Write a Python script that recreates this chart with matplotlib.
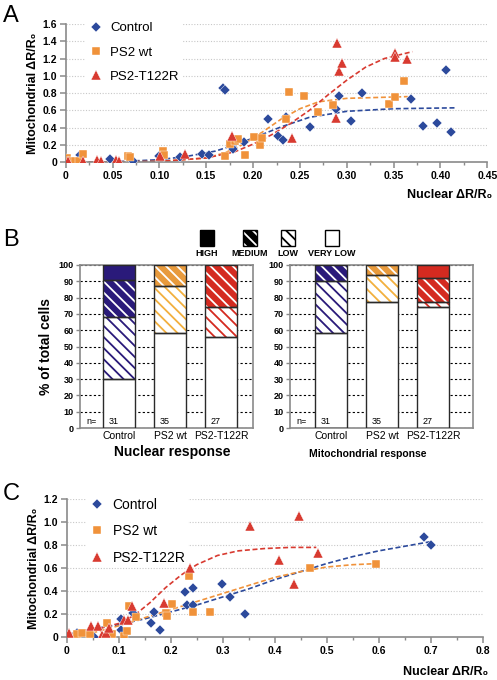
import matplotlib
matplotlib.use('Agg')
import matplotlib.pyplot as plt
from matplotlib import font_manager
from matplotlib.patches import Rectangle
from matplotlib.ticker import MultipleLocator, FuncFormatter

plt.rcParams['font.family'] = ['Liberation Sans', 'DejaVu Sans']
plt.rcParams['hatch.linewidth'] = 1.3

names = {f.name for f in font_manager.fontManager.ttflist}
if 'Liberation Sans Narrow' in names:
    NARROW = ['Liberation Sans Narrow', 'Liberation Sans', 'DejaVu Sans']
else:
    NARROW = ['Liberation Sans', 'DejaVu Sans']

BLUE = '#2c4a9c'
ORANGE = '#f0923a'
RED = '#d83a30'
NAVY = '#2a1a7a'
BAR_ORANGE = '#e89a3c'
BAR_ORANGE_LT = '#f2b03e'
BAR_RED = '#d42a20'

# ---- panel A data (nuclear vs mitochondrial, x/y) ----
a_ctrl_x = [0.015, 0.047, 0.072, 0.100, 0.122, 0.146, 0.153, 0.168, 0.170, 0.178, 0.178, 0.179,
            0.190, 0.216, 0.227, 0.232, 0.235, 0.261, 0.289, 0.292, 0.305, 0.316, 0.369, 0.381,
            0.396, 0.406, 0.411]
a_ctrl_y = [0.085, 0.035, 0.02, 0.07, 0.06, 0.10, 0.09, 0.86, 0.84, 0.22, 0.18, 0.15,
            0.24, 0.50, 0.30, 0.26, 0.52, 0.41, 0.62, 0.77, 0.48, 0.80, 0.73, 0.42,
            0.45, 1.07, 0.35]
a_wt_x = [0.001, 0.003, 0.007, 0.010, 0.014, 0.018, 0.066, 0.069, 0.104, 0.105, 0.170, 0.175,
          0.181, 0.184, 0.191, 0.201, 0.207, 0.210, 0.235, 0.238, 0.254, 0.269, 0.285, 0.345,
          0.352, 0.361]
a_wt_y = [0.05, 0.01, 0.02, 0.01, 0.01, 0.10, 0.07, 0.06, 0.13, 0.08, 0.07, 0.21,
          0.25, 0.27, 0.08, 0.29, 0.20, 0.28, 0.50, 0.81, 0.77, 0.58, 0.66, 0.68,
          0.75, 0.94]
a_mut_x = [0.002, 0.018, 0.033, 0.038, 0.054, 0.057, 0.101, 0.127, 0.178, 0.242, 0.288, 0.290,
           0.292, 0.295, 0.351, 0.351, 0.364]
a_mut_y = [0.015, 0.01, 0.03, 0.015, 0.03, 0.01, 0.07, 0.10, 0.30, 0.28, 0.51, 1.38,
           1.06, 1.15, 1.26, 1.22, 1.20]

# fitted curves
a_ctrl_fit_x = [0, 0.05, 0.10, 0.13, 0.16, 0.18, 0.20, 0.23, 0.26, 0.30, 0.35, 0.415]
a_ctrl_fit_y = [0.0, 0.005, 0.03, 0.07, 0.13, 0.20, 0.28, 0.41, 0.52, 0.59, 0.62, 0.63]
a_wt_fit_x = [0, 0.10, 0.15, 0.17, 0.19, 0.21, 0.23, 0.25, 0.27, 0.30, 0.365]
a_wt_fit_y = [0, 0.01, 0.05, 0.11, 0.21, 0.35, 0.50, 0.62, 0.70, 0.74, 0.76]
a_mut_fit_x = [0, 0.10, 0.15, 0.18, 0.20, 0.22, 0.24, 0.26, 0.28, 0.30, 0.32, 0.34, 0.37]
a_mut_fit_y = [0, 0.01, 0.05, 0.12, 0.21, 0.32, 0.45, 0.60, 0.78, 0.95, 1.10, 1.20, 1.28]

# ---- panel B data (% of cells per response class) ----
groups = ['Control', 'PS2 wt', 'PS2-T122R']
n_cells = [31, 35, 27]
nuc_verylow = [30, 58, 56]
nuc_low = [38, 29, 18]
nuc_medium = [23, 13, 26]
nuc_high = [9, 0, 0]
mito_verylow = [58, 77, 74]
mito_low = [32, 17, 3]
mito_medium = [10, 6, 15]
mito_high = [0, 0, 8]

# ---- panel C data ----
c_ctrl_x = [0.019, 0.040, 0.044, 0.053, 0.104, 0.105, 0.128, 0.162, 0.167, 0.179, 0.228, 0.231,
            0.242, 0.242, 0.299, 0.314, 0.342, 0.688, 0.700]
c_ctrl_y = [0.04, 0.035, 0.015, 0.006, 0.16, 0.065, 0.21, 0.12, 0.22, 0.065, 0.39, 0.28,
            0.43, 0.28, 0.46, 0.35, 0.20, 0.87, 0.80]
c_wt_x = [0.019, 0.030, 0.044, 0.077, 0.087, 0.110, 0.115, 0.119, 0.133, 0.190, 0.192, 0.203,
          0.236, 0.242, 0.276, 0.467, 0.595]
c_wt_y = [0.026, 0.035, 0.026, 0.12, 0.026, 0.012, 0.055, 0.27, 0.18, 0.21, 0.185, 0.29,
          0.53, 0.22, 0.22, 0.60, 0.64]
c_mut_x = [0.004, 0.047, 0.060, 0.067, 0.076, 0.081, 0.110, 0.117, 0.125, 0.188, 0.238, 0.353,
           0.408, 0.437, 0.447, 0.483]
c_mut_y = [0.04, 0.10, 0.10, 0.017, 0.035, 0.08, 0.15, 0.15, 0.27, 0.30, 0.60, 0.97,
           0.67, 0.46, 1.05, 0.73]

c_ctrl_fit_x = [0.02, 0.06, 0.10, 0.15, 0.20, 0.25, 0.30, 0.35, 0.40, 0.45, 0.50, 0.55, 0.60, 0.65, 0.70]
c_ctrl_fit_y = [0.05, 0.08, 0.11, 0.16, 0.22, 0.28, 0.35, 0.42, 0.50, 0.57, 0.64, 0.70, 0.75, 0.79, 0.83]
c_wt_fit_x = [0.02, 0.06, 0.10, 0.15, 0.20, 0.25, 0.30, 0.35, 0.40, 0.45, 0.50, 0.55, 0.60]
c_wt_fit_y = [0.02, 0.05, 0.10, 0.17, 0.24, 0.31, 0.38, 0.45, 0.52, 0.57, 0.61, 0.63, 0.64]
c_mut_fit_x = [0.005, 0.05, 0.10, 0.13, 0.16, 0.19, 0.22, 0.25, 0.29, 0.33, 0.38, 0.43, 0.48]
c_mut_fit_y = [0.03, 0.06, 0.12, 0.19, 0.30, 0.43, 0.54, 0.63, 0.71, 0.75, 0.77, 0.78, 0.78]

W, H = 497, 680
fig = plt.figure(figsize=(W / 100, H / 100), dpi=100)


def box(l, t, r, b):
    return [l / W, 1 - b / H, (r - l) / W, (b - t) / H]


def zero_fmt(step):
    def f(v, pos):
        if abs(v) < 1e-9:
            return '0'
        return ('%.' + str(step) + 'f') % v
    return FuncFormatter(f)


def scatter_panel(ax, data, fits, xmax, xmaj, xmin, ymax, xdec, legsize):
    for y in [v * 0.2 for v in range(1, int(round(ymax / 0.2)) + 1)]:
        ax.axhline(y, color='#c8c8c8', lw=0.8, ls=(0, (1, 1.5)), zorder=0)
    for (xs, ys), col in zip(fits, [BLUE, ORANGE, RED]):
        ax.plot(xs, ys, color=col, lw=1.2, ls=(0, (3, 1.6)), zorder=2)
    handles = []
    for (xs, ys), col, mk, ms, lab in zip(data, [BLUE, ORANGE, RED], ['D', 's', '^'],
                                           [5.5, 5.5, 6.5], ['Control', 'PS2 wt', 'PS2-T122R']):
        h, = ax.plot(xs, ys, ls='none', marker=mk, ms=ms, color=col, mec='white', mew=0.3,
                     label=lab, zorder=3)
        handles.append(h)
    leg = ax.legend(handles=handles, loc='upper left', bbox_to_anchor=(0.03, 1.08),
                    frameon=True, fontsize=legsize, labelspacing=0.9, handletextpad=0.5,
                    borderpad=0.2, handlelength=1.2)
    leg.get_frame().set_edgecolor('none')
    leg.get_frame().set_facecolor('white')
    leg.get_frame().set_alpha(1)
    leg.set_zorder(5)
    ax.set_xlim(0, xmax)
    ax.set_ylim(0, ymax)
    ax.xaxis.set_major_locator(MultipleLocator(xmaj))
    ax.xaxis.set_minor_locator(MultipleLocator(xmin))
    ax.yaxis.set_major_locator(MultipleLocator(0.2))
    ax.xaxis.set_major_formatter(zero_fmt(xdec))
    ax.yaxis.set_major_formatter(zero_fmt(1))
    for s in ['top', 'right']:
        ax.spines[s].set_visible(False)
    for s in ['left', 'bottom']:
        ax.spines[s].set_color('#8a8a8a')
        ax.spines[s].set_linewidth(1.2)
    ax.tick_params(which='major', direction='out', length=4, width=1.1, color='#8a8a8a',
                   labelsize=7.5, pad=2)
    ax.tick_params(which='minor', direction='out', length=2, width=1.0, color='#8a8a8a')
    for lab in ax.get_xticklabels() + ax.get_yticklabels():
        lab.set_fontweight('bold')
    ax.set_ylabel('Mitochondrial \u0394R/R\u2080', fontsize=9, fontweight='bold', labelpad=3)


# ---------- panel A ----------
axA = fig.add_axes(box(65.7, 24, 487.3, 162.3))
scatter_panel(axA,
              [(a_ctrl_x, a_ctrl_y), (a_wt_x, a_wt_y), (a_mut_x, a_mut_y)],
              [(a_ctrl_fit_x, a_ctrl_fit_y), (a_wt_fit_x, a_wt_fit_y), (a_mut_fit_x, a_mut_fit_y)],
              0.45, 0.05, 0.025, 1.6, 2, 9.5)
fig.text(492 / W, 1 - 195 / H, 'Nuclear \u0394R/R\u2080', ha='right', va='center',
         fontsize=9, fontweight='bold')

# ---------- panel C ----------
axC = fig.add_axes(box(66.7, 499, 482.7, 637.3))
scatter_panel(axC,
              [(c_ctrl_x, c_ctrl_y), (c_wt_x, c_wt_y), (c_mut_x, c_mut_y)],
              [(c_ctrl_fit_x, c_ctrl_fit_y), (c_wt_fit_x, c_wt_fit_y), (c_mut_fit_x, c_mut_fit_y)],
              0.8, 0.1, 0.05, 1.2, 1, 10)
fig.text(488 / W, 1 - 672 / H, 'Nuclear \u0394R/R\u2080', ha='right', va='center',
         fontsize=9, fontweight='bold')

# ---------- panel B ----------
HATCH = '\\\\\\'


def bar_panel(ax, verylow, low, medium, high, colors, light, xl, xr):
    x = list(range(len(groups)))
    wd = 0.627
    for i in x:
        bottom = 0
        segs = [(verylow[i], 'white', None, None),
                (low[i], 'white', HATCH, light[i]),
                (medium[i], colors[i], HATCH, 'white'),
                (high[i], colors[i], None, None)]
        for h, fc, hatch, hc in segs:
            if h <= 0:
                continue
            ax.bar(i, h, wd, bottom=bottom, color=fc, hatch=hatch,
                   edgecolor=hc if hc else fc, linewidth=0, zorder=2)
            ax.bar(i, h, wd, bottom=bottom, fill=False, edgecolor='#2a2a2a',
                   linewidth=1.0, zorder=3)
            bottom += h
    ax.set_xlim(xl, xr)
    ax.set_ylim(0, 100)
    ax.yaxis.set_major_locator(MultipleLocator(10))
    ax.yaxis.grid(True, color='black', lw=0.8, ls=(0, (2, 2)))
    ax.set_axisbelow(True)
    for s in ax.spines.values():
        s.set_color('#8a8a8a')
        s.set_linewidth(1.2)
    ax.tick_params(axis='y', direction='out', length=3, width=1.0, color='#8a8a8a',
                   labelsize=6.5, pad=1.5)
    for lab in ax.get_yticklabels():
        lab.set_fontweight('bold')
        lab.set_family(NARROW)
    ax.set_xticks(x)
    ax.set_xticklabels(groups, fontsize=7.5, family=NARROW)
    ax.tick_params(axis='x', length=0, pad=2)
    ax.text(xl + 0.13, 4, 'n=', fontsize=6.5, ha='left', va='center', zorder=4)
    for i in x:
        ax.text(i - 0.2, 4, str(n_cells[i]), fontsize=6.5, ha='left', va='center', zorder=4)


axB1 = fig.add_axes(box(80, 265, 253, 428))
bar_panel(axB1, nuc_verylow, nuc_low, nuc_medium, nuc_high,
          [NAVY, BAR_ORANGE, BAR_RED], [NAVY, BAR_ORANGE_LT, BAR_RED], -0.765, 2.627)
axB1.set_ylabel('% of total cells', fontsize=10, fontweight='bold', labelpad=4)
fig.text(172 / W, 1 - 452 / H, 'Nuclear response', ha='center', va='center',
         fontsize=10, fontweight='bold', family=NARROW)

axB2 = fig.add_axes(box(290, 265, 473, 428))
bar_panel(axB2, mito_verylow, mito_low, mito_medium, mito_high,
          [NAVY, BAR_ORANGE, BAR_RED], [NAVY, BAR_ORANGE_LT, BAR_RED], -0.804, 2.784)
fig.text(368 / W, 1 - 454 / H, 'Mitochondrial response', ha='center', va='center',
         fontsize=7.5, fontweight='bold', family=NARROW)

# legend of panel B
leg_items = [('HIGH', 207, 'black', None, 'black'),
             ('MEDIUM', 250, 'black', HATCH, 'white'),
             ('LOW', 288, 'white', HATCH, 'black'),
             ('VERY LOW', 332, 'white', None, None)]
for lab, cx, fc, hatch, hc in leg_items:
    l, t, r, b = cx - 7, 230, cx + 7, 246
    fig.patches.append(Rectangle((l / W, 1 - b / H), (r - l) / W, (b - t) / H,
                                 transform=fig.transFigure, facecolor=fc, hatch=hatch,
                                 edgecolor=hc if hc else fc, linewidth=0))
    fig.patches.append(Rectangle((l / W, 1 - b / H), (r - l) / W, (b - t) / H,
                                 transform=fig.transFigure, fill=False,
                                 edgecolor='black', linewidth=1.0))
    fig.text(cx / W, 1 - 253 / H, lab, ha='center', va='center', fontsize=6.5,
             fontweight='bold', family=NARROW)

# panel letters
fig.text(3 / W, 1 - 16 / H, 'A', fontsize=17, va='center', ha='left')
fig.text(3 / W, 1 - 240 / H, 'B', fontsize=17, va='center', ha='left')
fig.text(3 / W, 1 - 494 / H, 'C', fontsize=17, va='center', ha='left')

fig.savefig('out.png', dpi=100)
